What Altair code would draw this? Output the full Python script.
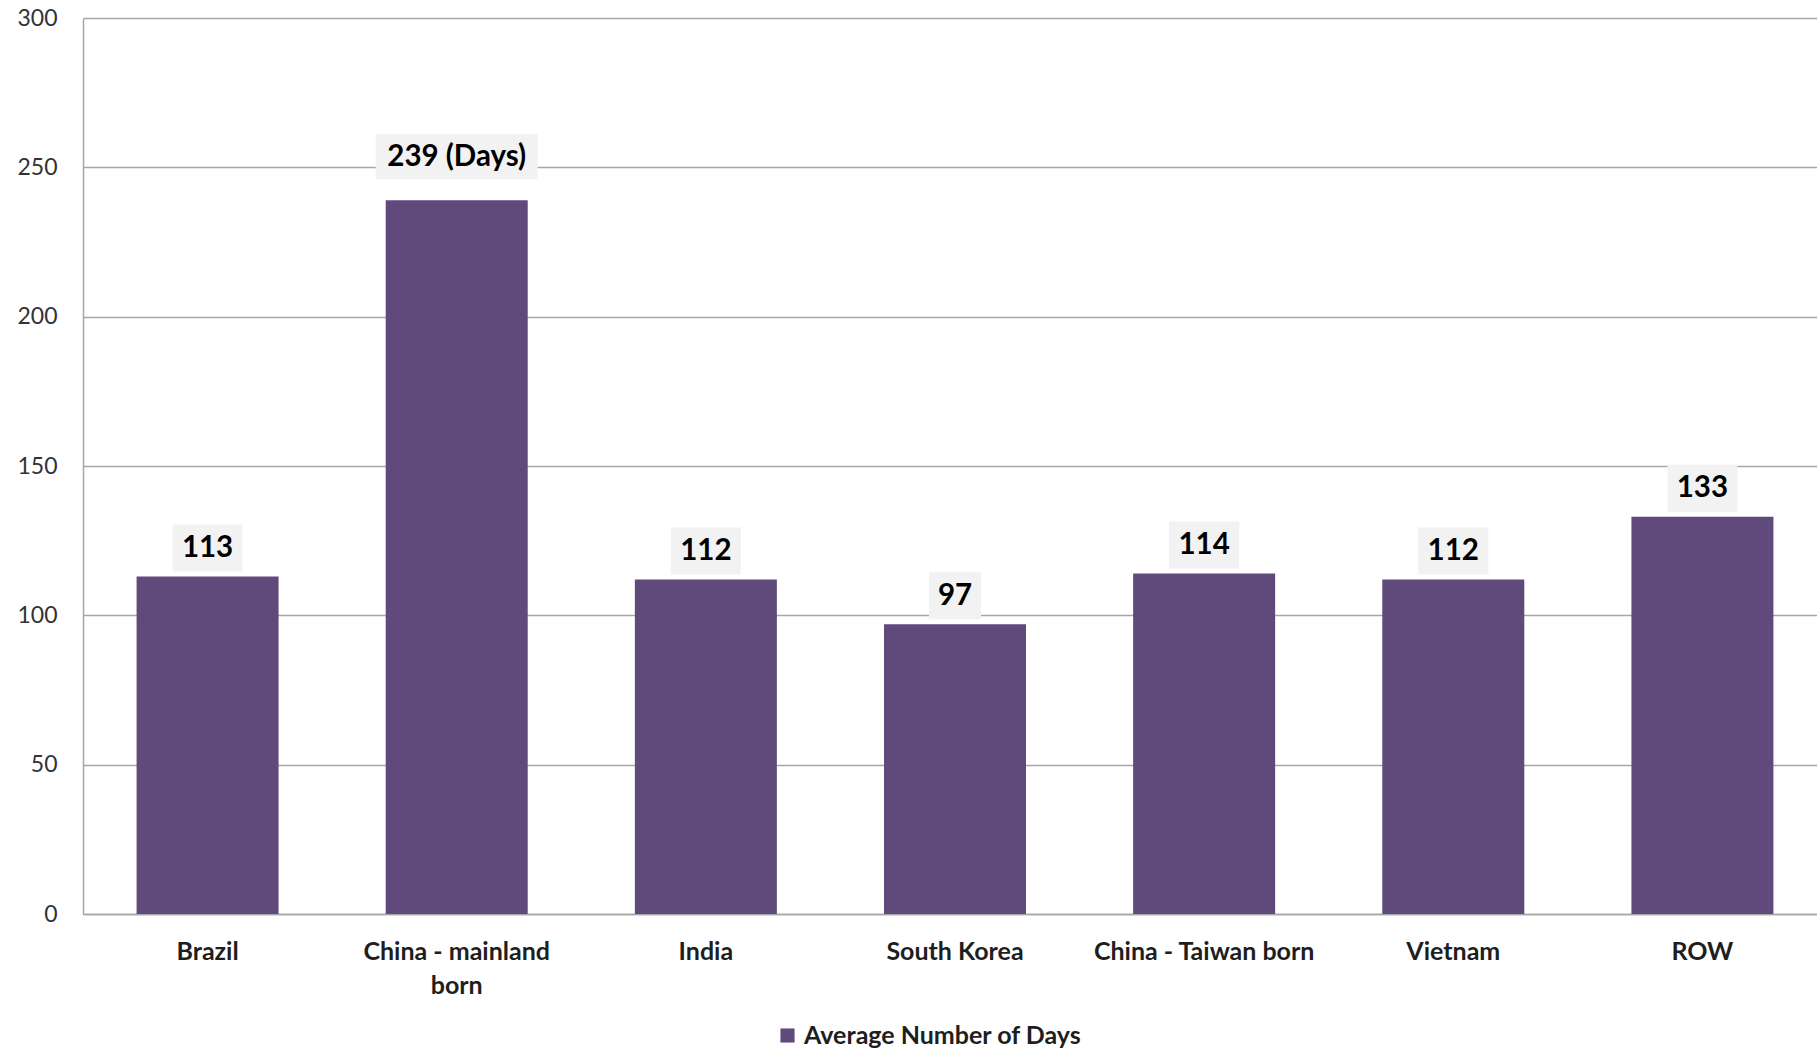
import altair as alt
import pandas as pd

categories = ["Brazil", "China - mainland born", "India", "South Korea",
              "China - Taiwan born", "Vietnam", "ROW"]
values = [113, 239, 112, 97, 114, 112, 133]
labels = ["113", "239 (Days)", "112", "97", "114", "112", "133"]
series_name = "Average Number of Days"

df = pd.DataFrame({"category": categories, "value": values, "label": labels,
                   "series": [series_name] * len(categories)})
df["nchar"] = df["label"].str.len()

FONT = "Lato"
BAR = "#5f4a7b"

x_enc = alt.X("category:N", sort=categories, title=None,
              scale=alt.Scale(range=[0, 1744], paddingInner=0.43, paddingOuter=0.215),
              axis=alt.Axis(labelAngle=0, ticks=False, domain=True, domainColor="#a6a6a6",
                            domainWidth=1.5, labelFont=FONT, labelFontSize=25,
                            labelFontWeight="bold", labelColor="#1e1e1e", labelPadding=25,
                            labelLimit=400, labelLineHeight=34,
                            labelExpr="datum.value == 'China - mainland born' ? ['China - mainland', 'born'] : datum.value"))
y_enc = alt.Y("value:Q", title=None,
              scale=alt.Scale(domain=[0, 300], nice=False),
              axis=alt.Axis(values=[0, 50, 100, 150, 200, 250, 300], ticks=False,
                            domain=True, domainColor="#a6a6a6", domainWidth=1.5,
                            grid=True, gridColor="#a6a6a6", gridWidth=1.5,
                            labelFont=FONT, labelFontSize=23, labelColor="#333333",
                            labelPadding=26))

base = alt.Chart(df)

bars = base.mark_bar(size=142).encode(
    x=x_enc, y=y_enc,
    color=alt.Color("series:N", title=None,
                    scale=alt.Scale(range=[BAR]),
                    legend=alt.Legend(orient="none", legendX=692, legendY=1005,
                                      symbolType="square", symbolSize=200,
                                      symbolStrokeWidth=0,
                                      labelFont=FONT, labelFontSize=25,
                                      labelFontWeight="bold", labelColor="#1e1e1e",
                                      labelLimit=500)))

layers = [bars]
box_width = {2: 52, 3: 70, 10: 162}
for n, w in box_width.items():
    sub = base.transform_filter(f"datum.nchar == {n}")
    if n >= 10:
        y_off, y2_off, dy = -21, -66, -43.5
    else:
        y_off, y2_off, dy = -5, -52, -28.5
    layers.append(sub.mark_bar(width=w, color="#f2f2f2", yOffset=y_off, y2Offset=y2_off).encode(
        x=alt.X("category:N", sort=categories), y="value:Q", y2="value:Q"))
    layers.append(sub.mark_text(font=FONT, fontSize=29.5, fontWeight="bold", color="#000000",
                                baseline="middle", dy=dy).encode(
        x=alt.X("category:N", sort=categories), y="value:Q", text="label:N"))

chart = alt.layer(*layers).properties(
    width=1734, height=896,
    padding={"left": 83, "top": 18, "right": 0, "bottom": 139},
    autosize=alt.AutoSizeParams(type="none"),
    background="white",
).configure_view(stroke=None)

chart.save("out.html", embed_options={"renderer": "svg", "actions": False})
